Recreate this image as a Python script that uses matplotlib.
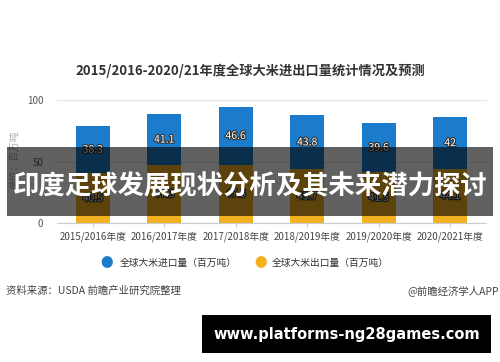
import matplotlib
matplotlib.use("Agg")
import matplotlib.pyplot as plt
import matplotlib.patheffects as pe
from matplotlib.patches import Rectangle

plt.rcParams['font.family'] = ['Noto Sans CJK SC', 'DejaVu Sans']

years = ["2015/2016年度", "2016/2017年度", "2017/2018年度",
         "2018/2019年度", "2019/2020年度", "2020/2021年度"]
imports = [38.3, 41.1, 46.6, 43.8, 39.6, 42]
exports = [40.5, 47.3, 47.5, 43.7, 41.5, 44.1]
yticks = [0, 50, 100]

blue = "#1a7ccb"
orange = "#f2b11f"

fig = plt.figure(figsize=(5, 3.62), dpi=100)
ax = fig.add_axes([0.114, 0.383, 0.858, 0.341])

x = list(range(len(years)))
ax.bar(x, exports, width=0.47, color=orange, zorder=2)
ax.bar(x, imports, width=0.47, bottom=exports, color=blue, zorder=2)

stroke = [pe.withStroke(linewidth=1.6, foreground="#333333")]
for i in x:
    ax.text(i, exports[i] + imports[i] / 2, f"{imports[i]:g}", ha="center", va="center",
            fontsize=7.5, color="white", path_effects=stroke, zorder=3)
    ax.text(i, exports[i] / 2, f"{exports[i]:g}", ha="center", va="center",
            fontsize=7.5, color="white", path_effects=stroke, zorder=3)

ax.set_xlim(-0.5, 5.5)
ax.set_ylim(0, 100)
ax.set_yticks(yticks)
ax.set_yticklabels([str(t) for t in yticks], fontsize=7, color="#555555")
ax.set_xticks(x)
ax.set_xticklabels(years, fontsize=7, color="#444444")
ax.tick_params(axis="y", length=0, pad=10)
ax.tick_params(axis="x", length=3, color="#cccccc", pad=3)
ax.grid(axis="y", color="#e3e3e3", linewidth=0.8, zorder=0)
for s in ["top", "right", "left"]:
    ax.spines[s].set_visible(False)
ax.spines["bottom"].set_color("#cccccc")
for gl in ax.get_ygridlines():
    gl.set_clip_on(False)

fig.text(0.028, 0.56, "单位：百万吨", rotation=90, ha="center", va="center",
         fontsize=7, color="#aaaaaa")

fig.text(0.5, 0.805, "2015/2016-2020/21年度全球大米进出口量统计情况及预测",
         ha="center", va="center", fontsize=9.5, fontweight="bold", color="#333333")

# legend
fig.text(0.214, 0.273, "●", ha="center", va="center", fontsize=9, color=blue)
fig.text(0.24, 0.273, "全球大米进口量（百万吨）", ha="left", va="center",
         fontsize=7, color="#333333")
fig.text(0.522, 0.273, "●", ha="center", va="center", fontsize=9, color=orange)
fig.text(0.544, 0.273, "全球大米出口量（百万吨）", ha="left", va="center",
         fontsize=7, color="#333333")

fig.text(0.012, 0.198, "资料来源：USDA 前瞻产业研究院整理", ha="left", va="center",
         fontsize=7.5, color="#444444")
fig.text(0.998, 0.198, "@前瞻经济学人APP", ha="right", va="center",
         fontsize=7.5, color="#444444")

# overlay banner
fig.patches.append(Rectangle((0.014, 1 - 215.7 / 362), 0.972, 68.4 / 362,
                             transform=fig.transFigure, facecolor="black",
                             alpha=0.62, edgecolor="none", zorder=5))
fig.text(0.5, 1 - 186.7 / 362, "印度足球发展现状分析及其未来潜力探讨", ha="center",
         va="center", fontsize=19, fontweight="bold", color="white", zorder=6)

fig.patches.append(Rectangle((0.404, 1 - 352.7 / 362), 0.578, 37.7 / 362,
                             transform=fig.transFigure, facecolor="black",
                             edgecolor="none", zorder=5))
fig.text(0.693, 1 - 334 / 362, "www.platforms-ng28games.com", ha="center",
         va="center", fontsize=10.5, fontweight="bold", color="white",
         family=["DejaVu Sans"], zorder=6)

fig.savefig("out.png", dpi=100)
